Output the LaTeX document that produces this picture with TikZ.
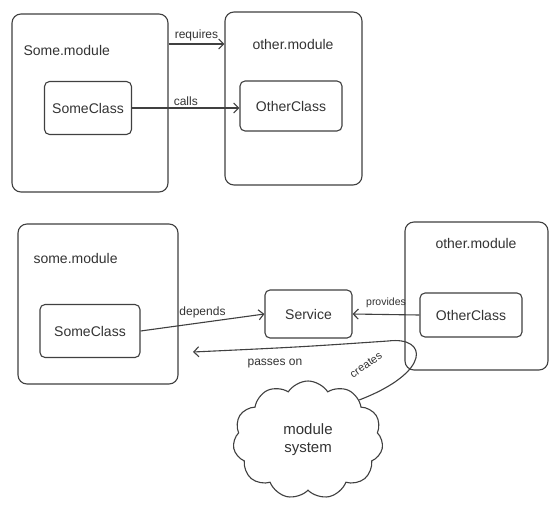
\documentclass[tikz,border=0pt]{standalone}
\usepackage{fontspec}
\setmainfont{Liberation Sans}
\usetikzlibrary{arrows.meta,shapes.symbols}
\begin{document}
\begin{tikzpicture}[x=1pt,y=-1pt,
  ink/.style={draw=black!75, line width=1.1pt},
  module/.style={ink, rounded corners=9pt},
  cls/.style={ink, rounded corners=5pt, font=\fontsize{14}{16}\selectfont, text=black!80},
  lbl/.style={font=\fontsize{14}{16}\selectfont, text=black!80},
  small/.style={font=\fontsize{12}{14}\selectfont, text=black!80, inner sep=2pt},
  arr/.style={ink, -{Straight Barb[length=5pt,width=10pt]}}]
\useasboundingbox (0,0) rectangle (556,509);
\fill[white] (0,0) rectangle (556,509);

% ---- top diagram ----
\node[module, minimum width=156pt, minimum height=178pt] (m1) at (90,103) {};
\node[lbl, anchor=west] (m1l) at (20,50) {Some.module};
\node[cls, minimum width=87pt, minimum height=53pt] (c1) at (88,108) {SomeClass};
\node[module, minimum width=137pt, minimum height=173pt] (m2) at (293.5,98.5) {};
\node[lbl] (m2l) at (293,44) {other.module};
\node[cls, minimum width=102pt, minimum height=50pt] (c2) at (291,106) {OtherClass};

\draw[arr] (m1.east |- m2l) -- (m2.west |- m2l) node[midway, above, small] {requires};
\draw[arr] (c1.east) -- (c2.west |- c1.east) node[midway, above, small] {calls};

% ---- bottom diagram ----
\node[module, minimum width=160pt, minimum height=160pt] (m3) at (98,304) {};
\node[lbl, anchor=west] (m3l) at (30,258) {some.module};
\node[cls, minimum width=100pt, minimum height=53pt] (c3) at (90,331) {SomeClass};
\node[cls, minimum width=87pt, minimum height=48pt] (svc) at (308.5,314) {Service};
\node[module, minimum width=143pt, minimum height=148pt] (m4) at (476.5,296) {};
\node[lbl] (m4l) at (476,243) {other.module};
\node[cls, minimum width=102pt, minimum height=44pt] (c4) at (471,315) {OtherClass};

\node[ink, cloud, cloud puffs=11, cloud puff arc=115, aspect=1.3,
      minimum width=150pt, minimum height=118pt, align=center, lbl,
      font=\fontsize{15}{18}\selectfont] (cloud) at (308,440) {module\\system};

\coordinate (po) at (193,352);

\draw[arr] (c3.east) -- (svc.west) node[midway, above, small, yshift=2pt] {depends};
\draw[arr] (c4.west) -- (svc.east) node[midway, above, small, font=\fontsize{10.5}{12}\selectfont, yshift=4pt] {provides};
\draw[arr] (cloud.38) .. controls (432,372) and (428,336) .. (388,341)
           .. controls (300,347) .. (po);
\node[small, rotate=35, font=\fontsize{11}{13}\selectfont] at (366,365) {creates};
\node[small] at (275,364) {passes on};
\end{tikzpicture}
\end{document}
